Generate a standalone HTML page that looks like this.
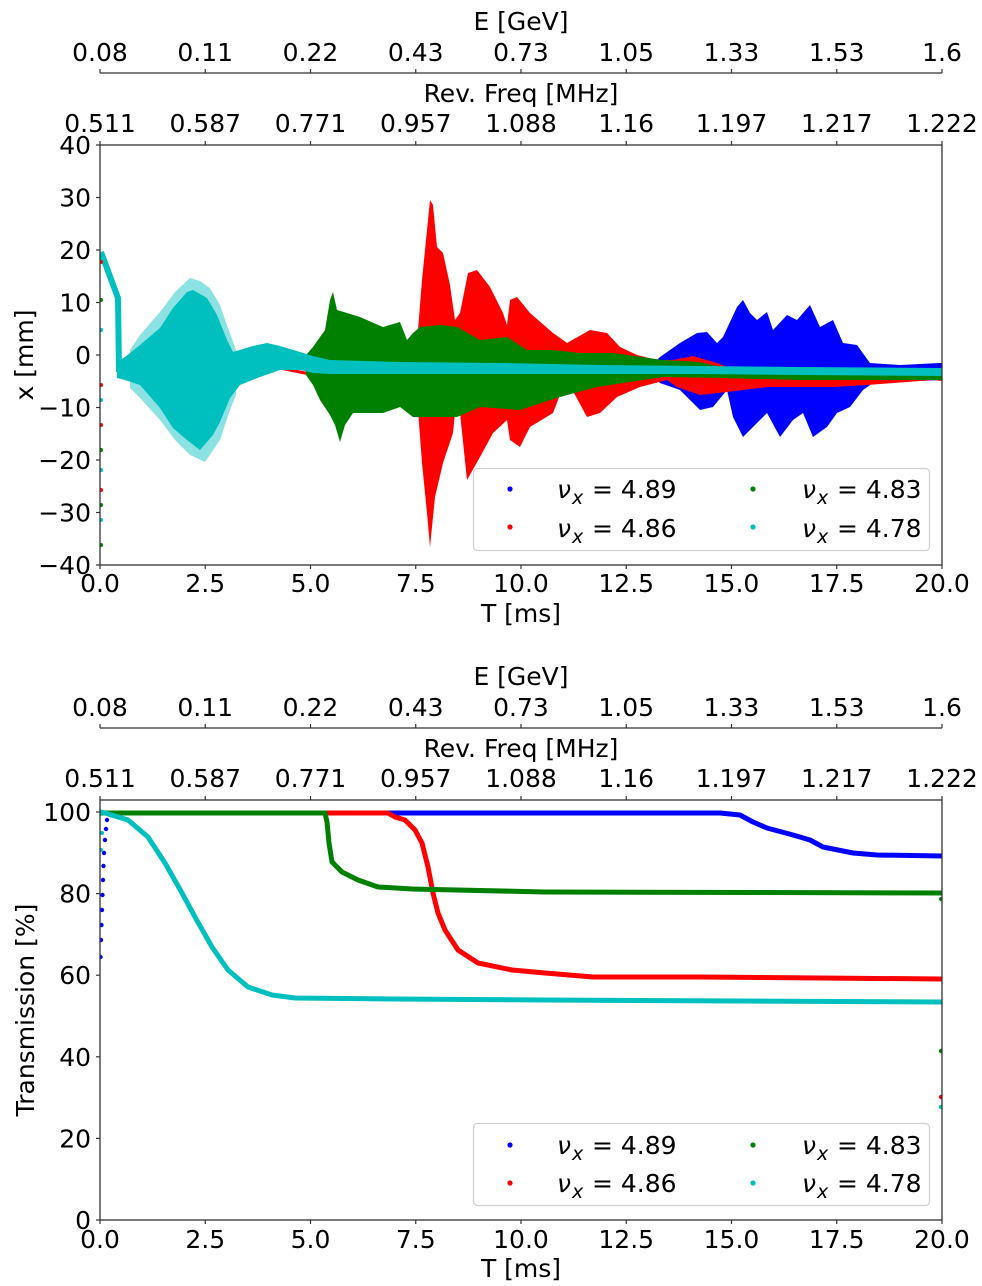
<!DOCTYPE html>
<html>
<head>
<meta charset="utf-8">
<style>
  html,body{margin:0;padding:0;background:#fff;}
  svg{display:block;}
  text{font-family:"DejaVu Sans","Liberation Sans",sans-serif;fill:#000;}
  .t{font-size:25px;}
  .it{font-style:italic;}
</style>
</head>
<body>
<svg width="982" height="1286" viewBox="0 0 982 1286" xmlns="http://www.w3.org/2000/svg">
<defs>
  <clipPath id="c1"><rect x="100" y="145" width="842" height="420"/></clipPath>
  <clipPath id="c2"><rect x="100" y="800" width="842" height="420"/></clipPath>
</defs>

<!-- ================= TOP PLOT ================= -->
<g clip-path="url(#c1)">
  <!-- blue -->
  <polygon fill="#0000ff" points="655,362 660,357 680,343 697,333 707,332 717,343 723,337 737,307 743,300 750,313 757,320 767,312 773,330 787,315 797,320 810,305 820,327 833,320 843,343 857,345 870,363 900,365 940,363 942,363 942,380 873,383 863,390 850,407 837,413 827,427 813,437 803,413 793,420 780,437 767,413 753,427 743,437 733,417 727,390 713,407 700,410 680,390 660,383 655,378"/>
  <!-- red -->
  <polygon fill="#ff0000" points="405,350 415,340 418,330 422,280 427,230 430,200 433,205 437,247 443,253 450,285 455,320 460,313 468,273 477,270 490,287 503,313 507,325 510,300 517,297 530,313 553,333 563,340 567,343 590,330 607,333 620,347 637,355 657,360 673,360 693,356 717,363 733,369 800,373 933,377 942,377 942,381 933,380 867,385 833,387 767,387 727,392 700,395 677,387 667,380 640,387 617,397 600,413 587,417 567,380 563,387 553,413 530,427 520,447 510,440 507,420 493,433 480,457 467,480 460,413 455,413 453,433 443,463 435,497 430,547 427,513 422,463 418,410 405,380"/>
  <line x1="150" y1="377" x2="226" y2="378" stroke="#ff0000" stroke-width="2.5"/>
  <line x1="280" y1="368" x2="310" y2="374" stroke="#ff0000" stroke-width="3"/>
  <!-- green -->
  <polygon fill="#008000" points="306,355 313,347 325,330 330,300 333,292 337,310 347,313 360,317 383,327 400,322 407,340 413,333 420,327 440,325 457,327 480,340 507,337 527,350 553,350 580,353 613,353 663,360 700,362 733,370 800,373 942,373 942,380 800,380 720,378 663,377 597,387 560,397 520,410 480,407 457,417 433,417 413,417 400,407 383,413 353,413 345,425 340,442 335,425 330,415 320,400 313,385 306,375"/>
  <line x1="165" y1="373" x2="205" y2="374" stroke="#008000" stroke-width="2.5"/>
  <!-- cyan sparse outer -->
  <polygon fill="#00bfbf" fill-opacity="0.45" points="130,350 140,335 160,312 175,292 190,278 200,281 210,288 220,305 228,328 236,350 236,395 230,410 220,440 205,462 190,455 175,440 160,420 140,398 130,388"/>
  <!-- cyan dense -->
  <polygon fill="#00bfbf" points="117,362 125,357 140,345 160,328 173,308 187,292 193,290 207,298 217,315 227,340 233,352 253,346 267,343 280,346 300,352 313,356 330,360 400,362 500,363 600,365 700,366 800,367 942,368 942,376 800,375 700,374 600,374 500,374 400,374 330,374 313,373 300,370 280,370 260,377 240,385 230,398 220,422 213,435 200,450 187,440 173,428 160,408 140,385 125,380 117,378"/>
  <polyline fill="none" stroke="#00bfbf" stroke-width="6" stroke-linejoin="round" points="101,252 118,298 119,372"/>
  <!-- scattered edge dots at T=0 -->
  <g>
    <circle cx="101" cy="262" r="2" fill="#ff0000"/>
    <circle cx="101" cy="300" r="2" fill="#008000"/>
    <circle cx="101" cy="330" r="2" fill="#00bfbf"/>
    <circle cx="101" cy="385" r="2" fill="#ff0000"/>
    <circle cx="101" cy="400" r="2" fill="#00bfbf"/>
    <circle cx="101" cy="425" r="2" fill="#ff0000"/>
    <circle cx="101" cy="450" r="2" fill="#008000"/>
    <circle cx="101" cy="470" r="2" fill="#00bfbf"/>
    <circle cx="101" cy="490" r="2" fill="#ff0000"/>
    <circle cx="101" cy="505" r="2" fill="#008000"/>
    <circle cx="101" cy="520" r="2" fill="#00bfbf"/>
    <circle cx="101" cy="545" r="2" fill="#008000"/>
  </g>
</g>

<!-- top plot spines -->
<rect x="100" y="145" width="842" height="420" fill="none" stroke="#333" stroke-width="1.3"/>
<!-- bottom ticks -->
<g stroke="#333" stroke-width="1.2">
  <line x1="100" y1="565" x2="100" y2="569"/>
  <line x1="205.25" y1="565" x2="205.25" y2="569"/>
  <line x1="310.5" y1="565" x2="310.5" y2="569"/>
  <line x1="415.75" y1="565" x2="415.75" y2="569"/>
  <line x1="521" y1="565" x2="521" y2="569"/>
  <line x1="626.25" y1="565" x2="626.25" y2="569"/>
  <line x1="731.5" y1="565" x2="731.5" y2="569"/>
  <line x1="836.75" y1="565" x2="836.75" y2="569"/>
  <line x1="942" y1="565" x2="942" y2="569"/>
  <!-- rev ticks (top spine) -->
  <line x1="100" y1="145" x2="100" y2="141"/>
  <line x1="205.25" y1="145" x2="205.25" y2="141"/>
  <line x1="310.5" y1="145" x2="310.5" y2="141"/>
  <line x1="415.75" y1="145" x2="415.75" y2="141"/>
  <line x1="521" y1="145" x2="521" y2="141"/>
  <line x1="626.25" y1="145" x2="626.25" y2="141"/>
  <line x1="731.5" y1="145" x2="731.5" y2="141"/>
  <line x1="836.75" y1="145" x2="836.75" y2="141"/>
  <line x1="942" y1="145" x2="942" y2="141"/>
  <!-- E axis line -->
  <line x1="100" y1="73" x2="942" y2="73"/>
  <line x1="100" y1="73" x2="100" y2="69"/>
  <line x1="205.25" y1="73" x2="205.25" y2="69"/>
  <line x1="310.5" y1="73" x2="310.5" y2="69"/>
  <line x1="415.75" y1="73" x2="415.75" y2="69"/>
  <line x1="521" y1="73" x2="521" y2="69"/>
  <line x1="626.25" y1="73" x2="626.25" y2="69"/>
  <line x1="731.5" y1="73" x2="731.5" y2="69"/>
  <line x1="836.75" y1="73" x2="836.75" y2="69"/>
  <line x1="942" y1="73" x2="942" y2="69"/>
  <!-- y ticks -->
  <line x1="100" y1="145" x2="96" y2="145"/>
  <line x1="100" y1="197.5" x2="96" y2="197.5"/>
  <line x1="100" y1="250" x2="96" y2="250"/>
  <line x1="100" y1="302.5" x2="96" y2="302.5"/>
  <line x1="100" y1="355" x2="96" y2="355"/>
  <line x1="100" y1="407.5" x2="96" y2="407.5"/>
  <line x1="100" y1="460" x2="96" y2="460"/>
  <line x1="100" y1="512.5" x2="96" y2="512.5"/>
  <line x1="100" y1="565" x2="96" y2="565"/>
</g>

<!-- top texts -->
<g class="t" text-anchor="middle">
  <text x="521" y="30">E [GeV]</text>
  <text x="100" y="61">0.08</text>
  <text x="205.25" y="61">0.11</text>
  <text x="310.5" y="61">0.22</text>
  <text x="415.75" y="61">0.43</text>
  <text x="521" y="61">0.73</text>
  <text x="626.25" y="61">1.05</text>
  <text x="731.5" y="61">1.33</text>
  <text x="836.75" y="61">1.53</text>
  <text x="942" y="61">1.6</text>
  <text x="521" y="102">Rev. Freq [MHz]</text>
  <text x="100" y="132">0.511</text>
  <text x="205.25" y="132">0.587</text>
  <text x="310.5" y="132">0.771</text>
  <text x="415.75" y="132">0.957</text>
  <text x="521" y="132">1.088</text>
  <text x="626.25" y="132">1.16</text>
  <text x="731.5" y="132">1.197</text>
  <text x="836.75" y="132">1.217</text>
  <text x="942" y="132">1.222</text>
  <text x="100" y="592">0.0</text>
  <text x="205.25" y="592">2.5</text>
  <text x="310.5" y="592">5.0</text>
  <text x="415.75" y="592">7.5</text>
  <text x="521" y="592">10.0</text>
  <text x="626.25" y="592">12.5</text>
  <text x="731.5" y="592">15.0</text>
  <text x="836.75" y="592">17.5</text>
  <text x="942" y="592">20.0</text>
  <text x="521" y="622">T [ms]</text>
</g>
<g class="t" text-anchor="end">
  <text x="91" y="154">40</text>
  <text x="91" y="206.5">30</text>
  <text x="91" y="259">20</text>
  <text x="91" y="311.5">10</text>
  <text x="91" y="364">0</text>
  <text x="91" y="416.5">−10</text>
  <text x="91" y="469">−20</text>
  <text x="91" y="521.5">−30</text>
  <text x="91" y="574">−40</text>
</g>
<text class="t" text-anchor="middle" transform="translate(33,355) rotate(-90)">x [mm]</text>

<!-- top legend -->
<rect x="473.5" y="468.5" width="456" height="82" rx="4" ry="4" fill="#fff" fill-opacity="0.85" stroke="#d0d0d0" stroke-width="1.2"/>
<circle cx="510" cy="489" r="2.6" fill="#0000ff"/>
<circle cx="510" cy="527" r="2.6" fill="#ff0000"/>
<circle cx="753" cy="489" r="2.6" fill="#008000"/>
<circle cx="753" cy="527" r="2.6" fill="#00bfbf"/>
<g class="t">
  <text x="557" y="498" class="it">ν</text><text x="572" y="504" class="it" style="font-size:19px">x</text><text x="592" y="498">= 4.89</text>
  <text x="557" y="537" class="it">ν</text><text x="572" y="543" class="it" style="font-size:19px">x</text><text x="592" y="537">= 4.86</text>
  <text x="802" y="498" class="it">ν</text><text x="817" y="504" class="it" style="font-size:19px">x</text><text x="837" y="498">= 4.83</text>
  <text x="802" y="537" class="it">ν</text><text x="817" y="543" class="it" style="font-size:19px">x</text><text x="837" y="537">= 4.78</text>
</g>

<!-- ================= BOTTOM PLOT ================= -->
<g clip-path="url(#c2)" fill="none" stroke-linejoin="round" stroke-linecap="round">
  <!-- blue -->
  <polyline stroke="#0000ff" stroke-width="5" points="106,813 720,813 740,815 753,822 767,828 793,835 810,840 823,847 853,853 877,855 942,856"/>
  <g fill="#0000ff" stroke="none">
    <circle cx="100.5" cy="957" r="2.2"/>
    <circle cx="101" cy="940" r="2.2"/>
    <circle cx="101.5" cy="925" r="2.2"/>
    <circle cx="102" cy="910" r="2.2"/>
    <circle cx="102.5" cy="895" r="2.2"/>
    <circle cx="103" cy="880" r="2.2"/>
    <circle cx="103.5" cy="866" r="2.2"/>
    <circle cx="104" cy="853" r="2.2"/>
    <circle cx="105" cy="840" r="2.2"/>
    <circle cx="106" cy="829" r="2.2"/>
    <circle cx="107" cy="820" r="2.2"/>
  </g>
  <!-- red -->
  <polyline stroke="#ff0000" stroke-width="5" points="100,813 388,813 395,817 405,820 415,830 422,843 428,867 433,893 438,913 445,930 458,950 478,963 512,970 545,973 593,977 700,977 942,979"/>
  <!-- green -->
  <polyline stroke="#008000" stroke-width="5" points="100,813 325,813 327,822 329,843 332,862 342,872 358,880 378,887 412,889 545,892 942,893"/>
  <!-- cyan -->
  <polyline stroke="#00bfbf" stroke-width="5" points="100,812 105,813 128,820 148,837 165,863 182,893 195,917 212,947 228,970 248,987 272,995 295,998 395,999 545,1000 942,1002"/>
  <g stroke="none">
    <circle cx="941" cy="1051" r="2.2" fill="#008000"/>
    <circle cx="941" cy="1097" r="2.2" fill="#ff0000"/>
    <circle cx="941" cy="1107" r="2.2" fill="#00bfbf"/>
    <circle cx="941" cy="899" r="2" fill="#008000"/>
    <circle cx="102" cy="833" r="2" fill="#00bfbf"/>
    <circle cx="101" cy="850" r="2" fill="#00bfbf"/>
  </g>
</g>

<rect x="100" y="800" width="842" height="420" fill="none" stroke="#333" stroke-width="1.3"/>
<g stroke="#333" stroke-width="1.2">
  <line x1="100" y1="1220" x2="100" y2="1224"/>
  <line x1="205.25" y1="1220" x2="205.25" y2="1224"/>
  <line x1="310.5" y1="1220" x2="310.5" y2="1224"/>
  <line x1="415.75" y1="1220" x2="415.75" y2="1224"/>
  <line x1="521" y1="1220" x2="521" y2="1224"/>
  <line x1="626.25" y1="1220" x2="626.25" y2="1224"/>
  <line x1="731.5" y1="1220" x2="731.5" y2="1224"/>
  <line x1="836.75" y1="1220" x2="836.75" y2="1224"/>
  <line x1="942" y1="1220" x2="942" y2="1224"/>
  <line x1="100" y1="800" x2="100" y2="796"/>
  <line x1="205.25" y1="800" x2="205.25" y2="796"/>
  <line x1="310.5" y1="800" x2="310.5" y2="796"/>
  <line x1="415.75" y1="800" x2="415.75" y2="796"/>
  <line x1="521" y1="800" x2="521" y2="796"/>
  <line x1="626.25" y1="800" x2="626.25" y2="796"/>
  <line x1="731.5" y1="800" x2="731.5" y2="796"/>
  <line x1="836.75" y1="800" x2="836.75" y2="796"/>
  <line x1="942" y1="800" x2="942" y2="796"/>
  <line x1="100" y1="728" x2="942" y2="728"/>
  <line x1="100" y1="728" x2="100" y2="724"/>
  <line x1="205.25" y1="728" x2="205.25" y2="724"/>
  <line x1="310.5" y1="728" x2="310.5" y2="724"/>
  <line x1="415.75" y1="728" x2="415.75" y2="724"/>
  <line x1="521" y1="728" x2="521" y2="724"/>
  <line x1="626.25" y1="728" x2="626.25" y2="724"/>
  <line x1="731.5" y1="728" x2="731.5" y2="724"/>
  <line x1="836.75" y1="728" x2="836.75" y2="724"/>
  <line x1="942" y1="728" x2="942" y2="724"/>
  <line x1="100" y1="812" x2="96" y2="812"/>
  <line x1="100" y1="893.6" x2="96" y2="893.6"/>
  <line x1="100" y1="975.2" x2="96" y2="975.2"/>
  <line x1="100" y1="1056.8" x2="96" y2="1056.8"/>
  <line x1="100" y1="1138.4" x2="96" y2="1138.4"/>
  <line x1="100" y1="1220" x2="96" y2="1220"/>
</g>

<g class="t" text-anchor="middle">
  <text x="521" y="685">E [GeV]</text>
  <text x="100" y="716">0.08</text>
  <text x="205.25" y="716">0.11</text>
  <text x="310.5" y="716">0.22</text>
  <text x="415.75" y="716">0.43</text>
  <text x="521" y="716">0.73</text>
  <text x="626.25" y="716">1.05</text>
  <text x="731.5" y="716">1.33</text>
  <text x="836.75" y="716">1.53</text>
  <text x="942" y="716">1.6</text>
  <text x="521" y="757">Rev. Freq [MHz]</text>
  <text x="100" y="787">0.511</text>
  <text x="205.25" y="787">0.587</text>
  <text x="310.5" y="787">0.771</text>
  <text x="415.75" y="787">0.957</text>
  <text x="521" y="787">1.088</text>
  <text x="626.25" y="787">1.16</text>
  <text x="731.5" y="787">1.197</text>
  <text x="836.75" y="787">1.217</text>
  <text x="942" y="787">1.222</text>
  <text x="100" y="1248">0.0</text>
  <text x="205.25" y="1248">2.5</text>
  <text x="310.5" y="1248">5.0</text>
  <text x="415.75" y="1248">7.5</text>
  <text x="521" y="1248">10.0</text>
  <text x="626.25" y="1248">12.5</text>
  <text x="731.5" y="1248">15.0</text>
  <text x="836.75" y="1248">17.5</text>
  <text x="942" y="1248">20.0</text>
  <text x="521" y="1277">T [ms]</text>
</g>
<g class="t" text-anchor="end">
  <text x="91" y="821">100</text>
  <text x="91" y="902.6">80</text>
  <text x="91" y="984.2">60</text>
  <text x="91" y="1065.8">40</text>
  <text x="91" y="1147.4">20</text>
  <text x="91" y="1229">0</text>
</g>
<text class="t" text-anchor="middle" transform="translate(34,1010) rotate(-90)">Transmission [%]</text>

<!-- bottom legend -->
<rect x="473.5" y="1123.5" width="456" height="82" rx="4" ry="4" fill="#fff" fill-opacity="0.85" stroke="#d0d0d0" stroke-width="1.2"/>
<circle cx="510" cy="1145" r="2.6" fill="#0000ff"/>
<circle cx="510" cy="1183" r="2.6" fill="#ff0000"/>
<circle cx="753" cy="1145" r="2.6" fill="#008000"/>
<circle cx="753" cy="1183" r="2.6" fill="#00bfbf"/>
<g class="t">
  <text x="557" y="1154" class="it">ν</text><text x="572" y="1160" class="it" style="font-size:19px">x</text><text x="592" y="1154">= 4.89</text>
  <text x="557" y="1192" class="it">ν</text><text x="572" y="1198" class="it" style="font-size:19px">x</text><text x="592" y="1192">= 4.86</text>
  <text x="802" y="1154" class="it">ν</text><text x="817" y="1160" class="it" style="font-size:19px">x</text><text x="837" y="1154">= 4.83</text>
  <text x="802" y="1192" class="it">ν</text><text x="817" y="1198" class="it" style="font-size:19px">x</text><text x="837" y="1192">= 4.78</text>
</g>
</svg>
</body>
</html>
